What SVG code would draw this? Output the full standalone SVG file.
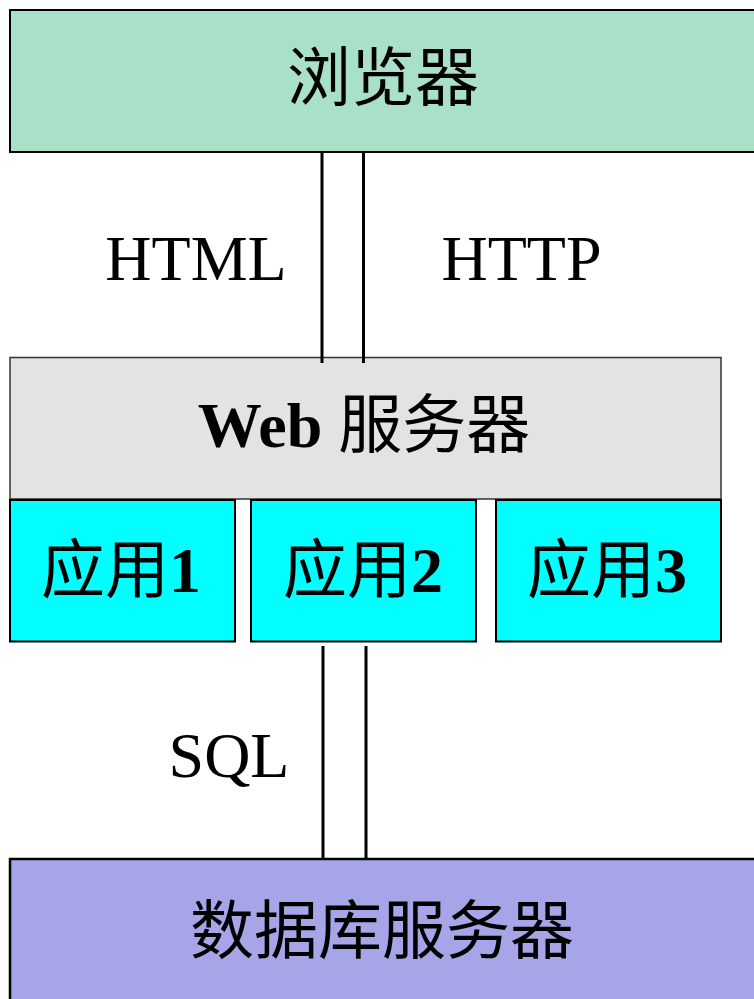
<svg xmlns="http://www.w3.org/2000/svg" width="754" height="999" viewBox="0 0 754 999">
<style>
.t{font-family:"Liberation Serif","Noto Sans CJK SC",serif;font-size:64px;fill:#000;text-anchor:middle}
.b{font-weight:bold}
.ln{stroke:#000;stroke-width:3;fill:none}
</style>
<rect width="754" height="999" fill="#fff"/>
<g id="browser">
<rect x="10" y="10" width="760" height="142" fill="#A9E1C8" stroke="#000" stroke-width="2"/>
<text class="t" x="383" y="100">浏览器</text>
</g>
<g id="web">
<rect x="10" y="357.5" width="711" height="141.5" fill="#E3E3E3" stroke="#333" stroke-width="1.5"/>
<text class="t" x="364" y="447"><tspan class="b">Web</tspan> 服务器</text>
</g>
<g id="app1">
<rect x="10" y="500" width="225" height="141.5" fill="#00FFFF" stroke="#000" stroke-width="2"/>
<text class="t" x="121" y="592">应用<tspan class="b">1</tspan></text>
</g>
<g id="app2">
<rect x="251" y="500" width="225" height="141.5" fill="#00FFFF" stroke="#000" stroke-width="2"/>
<text class="t" x="363" y="592">应用<tspan class="b">2</tspan></text>
</g>
<g id="app3">
<rect x="496" y="500" width="225" height="141.5" fill="#00FFFF" stroke="#000" stroke-width="2"/>
<text class="t" x="607" y="592">应用<tspan class="b">3</tspan></text>
</g>
<g id="db">
<rect x="10" y="859" width="760" height="160" fill="#A5A5E8" stroke="#000" stroke-width="2.5"/>
<text class="t" x="382" y="953">数据库服务器</text>
</g>
<g id="connectors">
<line class="ln" x1="322" y1="153" x2="322" y2="363"/>
<line class="ln" x1="363.5" y1="153" x2="363.5" y2="363"/>
<line class="ln" x1="323" y1="646" x2="323" y2="858"/>
<line class="ln" x1="366" y1="646" x2="366" y2="858"/>
<text class="t" x="196" y="280">HTML</text>
<text class="t" x="521.5" y="280">HTTP</text>
<text class="t" x="229" y="777">SQL</text>
</g>
</svg>
